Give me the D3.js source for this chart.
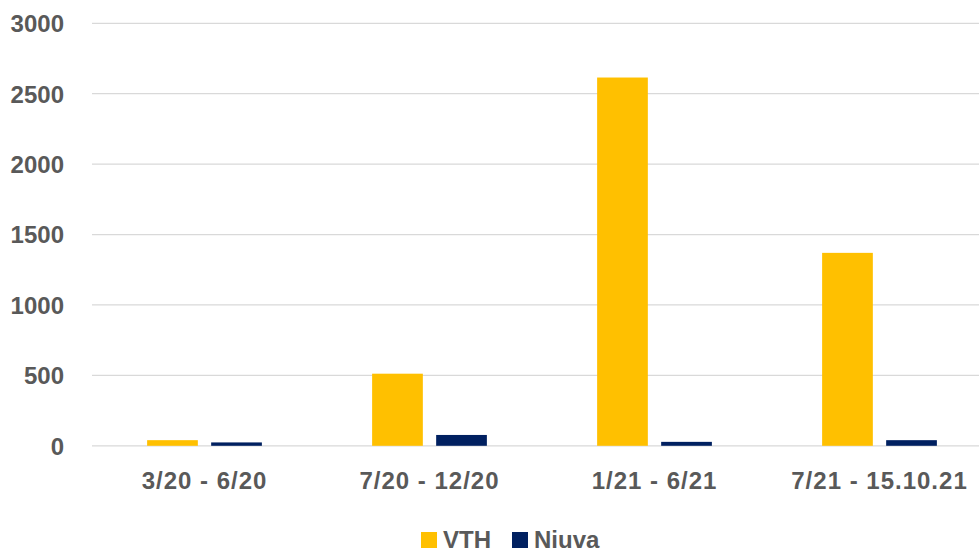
<!DOCTYPE html>
<html>
<head>
<meta charset="utf-8">
<script src="https://cdn.jsdelivr.net/npm/d3@7"></script>
<style>
  body { margin: 0; background: #fff; }
  text { font-family: "Liberation Sans", Arial, sans-serif; font-weight: bold; fill: #595959; }
</style>
</head>
<body>
<svg id="chart" width="979" height="549"></svg>
<script>
var categories = ["3/20 - 6/20", "7/20 - 12/20", "1/21 - 6/21", "7/21 - 15.10.21"];
var seriesNames = ["VTH", "Niuva"];
var vthValues = [40, 512, 2615, 1370];
var niuvaValues = [24, 77, 28, 40];
var yTicks = [0, 500, 1000, 1500, 2000, 2500, 3000];

var colors = d3.scaleOrdinal().domain(seriesNames).range(["#ffc000", "#002060"]);

var svg = d3.select("svg#chart");

var plotLeft = 92, plotRight = 992, plotTop = 23.3, plotBottom = 445.8;

var y = d3.scaleLinear().domain([0, 3000]).range([plotBottom, plotTop]);

var x0 = d3.scaleBand()
    .domain(categories)
    .range([plotLeft, plotRight])
    .paddingInner(0.49)
    .paddingOuter(0.245);

var x1 = d3.scaleBand()
    .domain(seriesNames)
    .range([0, x0.bandwidth()])
    .paddingInner(0.208);

var rows = categories.map(function(c, i) {
    return { cat: c, values: [
        { key: "VTH", value: vthValues[i] },
        { key: "Niuva", value: niuvaValues[i] }
    ]};
});

// gridlines
svg.append("g")
    .selectAll("line")
    .data(yTicks)
    .enter()
    .append("line")
    .attr("x1", plotLeft)
    .attr("x2", plotRight)
    .attr("y1", d => y(d))
    .attr("y2", d => y(d))
    .style("stroke", "#d9d9d9")
    .style("stroke-width", 1.3);

// y labels
var yAxis = svg.append("g")
    .attr("transform", "translate(64,0)")
    .call(d3.axisLeft(y).tickValues(yTicks).tickFormat(d3.format("d")).tickSize(0).tickPadding(0));
yAxis.select(".domain").remove();
yAxis.selectAll("text")
    .style("font-size", "24px")
    .style("font-family", null)
    .attr("dy", "0.35em");
yAxis.attr("font-family", null);

// bars
var groups = svg.append("g")
    .selectAll("g")
    .data(rows)
    .enter()
    .append("g")
    .attr("transform", d => "translate(" + x0(d.cat) + ",0)");

groups.selectAll("rect")
    .data(d => d.values)
    .enter()
    .append("rect")
    .attr("x", d => x1(d.key))
    .attr("width", x1.bandwidth())
    .attr("y", d => y(d.value))
    .attr("height", d => y(0) - y(d.value))
    .style("fill", d => colors(d.key));

// x labels
var xAxis = svg.append("g")
    .attr("transform", "translate(0," + plotBottom + ")")
    .call(d3.axisBottom(x0).tickSize(0).tickPadding(0));
xAxis.select(".domain").remove();
xAxis.attr("font-family", null);
xAxis.selectAll("text")
    .style("font-size", "24px")
    .style("letter-spacing", "1px")
    .attr("y", 43)
    .attr("dy", 0);

// legend
var legend = svg.append("g")
    .selectAll("g")
    .data(seriesNames)
    .enter()
    .append("g")
    .attr("transform", (d, i) => "translate(" + [421, 512][i] + ",532)");

legend.append("rect")
    .attr("width", 16)
    .attr("height", 16)
    .style("fill", d => colors(d));

legend.append("text")
    .attr("x", 22)
    .attr("y", 16)
    .style("font-size", "24px")
    .text(d => d);
</script>
</body>
</html>
